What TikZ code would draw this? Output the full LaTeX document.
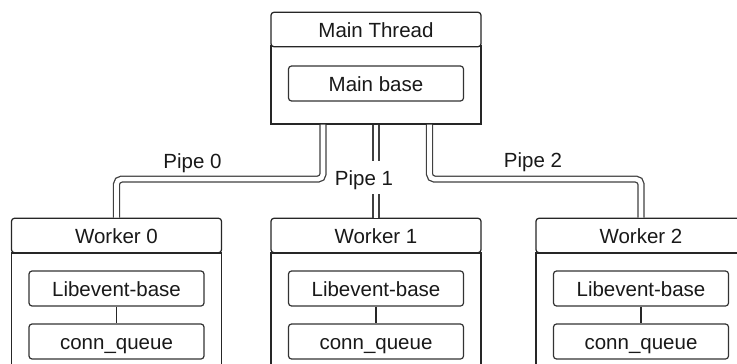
\documentclass[tikz,border=0pt]{standalone}
\usepackage{fontspec}
\setmainfont{Liberation Sans}
\begin{document}
\begin{tikzpicture}[x=1pt,y=-1pt,
  every node/.style={font=\fontsize{20.5}{24}\selectfont, text=black!90},
  frame/.style={draw=black!85, line width=1.25pt, fill=white, minimum width=210pt, inner sep=0pt},
  titlebox/.style={frame, rounded corners=3pt, minimum height=34.5pt, text height=15pt, text depth=0pt},
  bodybox/.style={frame},
  itembox/.style={draw=black!80, line width=1.2pt, rounded corners=3pt, fill=white,
    minimum width=175pt, minimum height=35pt, inner sep=0pt, text height=15pt, text depth=0pt},
  pipe/.style={draw=black!75, line width=1.3pt, double=white, double distance=4.6pt, rounded corners=5pt},
  link/.style={draw=black!85, line width=1.1pt},
  lbl/.style={inner xsep=2pt, inner ysep=9pt, text height=15pt, text depth=0pt}
]
\useasboundingbox (0,0) rectangle (737,364);
\clip (0,0) rectangle (737,364);

% main thread
\node[bodybox, minimum height=78pt] (mb) at (376,85) {};
\node[titlebox] (mt) at (376,29.5) {Main Thread};
\node[itembox] (mbase) at (376,83.5) {Main base};

% worker threads
\foreach \i/\cx in {0/116.5, 1/376, 2/641} {
  \node[bodybox, minimum height=147pt] (wb\i) at (\cx,326.5) {};
  \node[titlebox] (wt\i) at (\cx,235.5) {Worker \i};
  \node[itembox] (lb\i) at (\cx,288.5) {Libevent-base};
  \node[itembox] (cq\i) at (\cx,341.5) {conn\_queue};
  \draw[link] (lb\i) -- (cq\i);
}

% pipe labels
\node[lbl] (p0) at (192.5,160.5) {Pipe 0};
\node[lbl] (p1) at (364,177.5) {Pipe 1};
\node[lbl] (p2) at (533,159.5) {Pipe 2};

% pipes
\draw[pipe] ([xshift=-53pt]mb.south) -- ++(0,54.5) -| (wt0.north);
\draw[pipe] ([xshift=53.5pt]mb.south) -- ++(0,54.5) -| (wt2.north);
\draw[pipe] (mb.south) -- (mb.south |- p1.north);
\draw[pipe] (wt1.north |- p1.south) -- (wt1.north);
\end{tikzpicture}
\end{document}
